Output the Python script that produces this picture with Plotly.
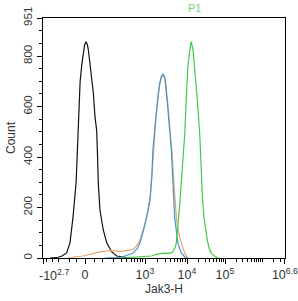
import numpy as np
import plotly.graph_objects as go

# ---- data (x in display channel units 0..1024, y in counts) ----
black_x = [30, 64, 80, 100, 114, 127, 140, 145, 149, 157, 164, 171, 176, 182, 188, 192, 202, 213, 220, 227, 230, 234, 241, 255, 270, 291, 312, 339, 368]
black_y = [0, 3, 8, 20, 59, 162, 297, 428, 559, 697, 765, 824, 844, 857, 844, 824, 745, 654, 559, 507, 428, 297, 190, 111, 59, 24, 8, 4, 0]

orange_x = [106, 121, 144, 169, 199, 227, 254, 283, 305, 326, 354, 377, 393, 410, 427, 440, 453, 463, 470, 476, 485, 493, 501, 508, 514, 520, 529, 537, 546, 554, 564, 573, 585, 600, 611]
orange_y = [0, 3, 6, 8, 16, 21, 26, 29, 28, 25, 30, 32, 44, 71, 119, 170, 238, 349, 448, 547, 626, 682, 713, 725, 713, 674, 606, 515, 420, 297, 162, 103, 59, 20, 0]

blue_x = [262, 296, 317, 338, 360, 381, 398, 410, 423, 439, 453, 461, 465, 472, 479, 487, 494, 501, 508, 513, 518, 526, 536, 543, 550, 557, 565, 571, 585, 600, 613]
blue_y = [0, 0, 2, 5, 12, 20, 36, 59, 103, 162, 230, 329, 428, 507, 586, 646, 693, 721, 729, 721, 705, 626, 519, 428, 297, 162, 103, 59, 20, 4, 0]

green_x = [326, 354, 389, 410, 432, 458, 487, 503, 515, 529, 542, 550, 558, 564, 569, 574, 580, 585, 592, 600, 606, 613, 620, 627, 635, 642, 647, 653, 663, 666, 670, 675, 681, 688, 695, 705, 715, 726, 740]
green_y = [0, 2, 4, 5, 7, 8, 16, 19, 19, 18, 20, 25, 40, 59, 103, 162, 230, 297, 428, 495, 626, 758, 816, 857, 824, 758, 686, 626, 495, 428, 297, 230, 162, 111, 71, 32, 16, 8, 0]

x_major_vals = [-10**2.7, 0, 1e3, 1e4, 1e5, 10**6.6]
x_major_text = ["", "0", "10<sup>3</sup>", "10<sup>4</sup>", "10<sup>5</sup>", "10<sup>6.6</sup>"]
y_major_vals = [0, 200, 400, 600, 800, 951]


# ---- biexponential-like display transform (value -> channel) ----
def to_channel(v):
    anchors = [(3, 102.0), (4, 144.0), (5, 182.0), (6.6, 242.0)]
    if v >= 1000:
        lv = np.log10(v)
        for (l0, d0), (l1, d1) in zip(anchors[:-1], anchors[1:]):
            if lv <= l1 + 1e-9:
                d = d0 + (lv - l0) / (l1 - l0) * (d1 - d0)
                break
    elif v >= 0:
        d = 42 + 60 * np.arcsinh(v / 100) / np.arcsinh(10)
    else:
        d = 42 - 42 * np.arcsinh(-v / 100) / np.arcsinh(10**2.7 / 100)
    return float(min(max(d * 1024 / 242, 0.0), 1023.8))


major_ch = [to_channel(v) for v in x_major_vals]
minor_vals = [-400, -300, -200, -100, -50, 50] + [k * 100 for k in range(1, 10)]
for dec in (1e3, 1e4, 1e5):
    minor_vals += [k * dec for k in range(2, 10)]
minor_vals += [1e6, 2e6, 3e6]
minor_ch = [to_channel(v) for v in minor_vals]

font = "Liberation Sans, Arial, sans-serif"
fig = go.Figure()
for xs, ys, col in [(black_x, black_y, "#111111"), (orange_x, orange_y, "#E6A574"),
                    (blue_x, blue_y, "#4594CC"), (green_x, green_y, "#46C846")]:
    fig.add_trace(go.Scatter(x=xs, y=ys, mode="lines", line=dict(color=col, width=1.2),
                             showlegend=False, hoverinfo="skip"))

fig.update_layout(
    width=298, height=301, margin=dict(l=43, r=13, t=18, b=43),
    paper_bgcolor="white", plot_bgcolor="white",
    font=dict(family=font, size=12, color="#333333"),
    xaxis=dict(range=[0, 1024], showgrid=False, zeroline=False, automargin=False,
               showline=True, linecolor="black", linewidth=1, mirror=True,
               tickmode="array", tickvals=major_ch, ticktext=x_major_text,
               ticklabeloverflow="allow",
               ticks="outside", ticklen=5, tickcolor="black", tickwidth=1,
               tickfont=dict(size=12.5, color="#333333"),
               minor=dict(tickmode="array", tickvals=minor_ch, ticks="outside",
                          ticklen=3, tickcolor="black", tickwidth=1),
               title=dict(text="Jak3-H", font=dict(size=12, color="#333333"), standoff=2)),
    yaxis=dict(range=[0, 951], showgrid=False, zeroline=False, automargin=False,
               showline=True, linecolor="black", linewidth=1, mirror=True,
               tickmode="array", tickvals=y_major_vals, ticktext=[str(v) for v in y_major_vals],
               tickangle=-90, ticklabeloverflow="allow",
               ticks="outside", ticklen=5, tickcolor="black", tickwidth=1,
               tickfont=dict(size=11.5, color="#333333"),
               minor=dict(tickmode="linear", tick0=0, dtick=50, ticks="outside",
                          ticklen=3, tickcolor="black", tickwidth=1),
               title=dict(text="Count", font=dict(size=12, color="#333333"), standoff=4)),
    annotations=[
        dict(text="-10<sup>2.7</sup>", xref="paper", yref="paper", x=11 / 242, y=0,
             yshift=-7, xanchor="center", yanchor="top", showarrow=False,
             font=dict(size=12.5, color="#333333")),
        dict(text="P1", xref="paper", yref="paper", x=(194 - 43) / 242, y=1,
             yshift=10, xanchor="center", yanchor="middle", showarrow=False,
             font=dict(size=11, color="#77D277")),
    ],
)

fig.write_html("out.html")
